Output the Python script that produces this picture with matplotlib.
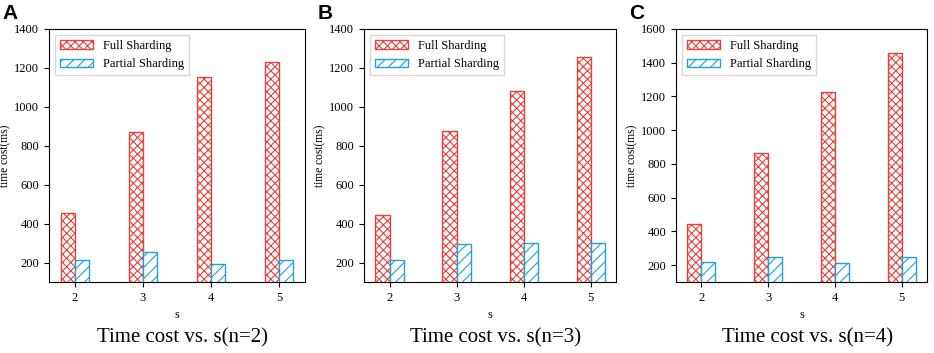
import matplotlib
matplotlib.use("Agg")
import matplotlib.pyplot as plt
import numpy as np

plt.rcParams['font.family'] = ['Liberation Serif', 'DejaVu Serif']
plt.rcParams['hatch.linewidth'] = 0.8

s_values = [2, 3, 4, 5]
full_n2 = [455, 872, 1154, 1229]
partial_n2 = [215, 253, 195, 212]
full_n3 = [446, 875, 1079, 1258]
partial_n3 = [215, 297, 301, 301]
full_n4 = [444, 864, 1225, 1460]
partial_n4 = [217, 247, 215, 251]

panels = [
    ("A", full_n2, partial_n2, "Time cost vs. s(n=2)", (100, 1400), [0.0525, 0.201, 0.274, 0.717]),
    ("B", full_n3, partial_n3, "Time cost vs. s(n=3)", (100, 1400), [0.3897, 0.201, 0.270, 0.717]),
    ("C", full_n4, partial_n4, "Time cost vs. s(n=4)", (100, 1600), [0.7238, 0.201, 0.2687, 0.717]),
]

red = '#e8403a'
blue = '#1ba1e2'

fig = plt.figure(figsize=(9.34, 3.53), dpi=100)
x = np.array(s_values, dtype=float)
w = 0.21
for letter, full, partial, title, ylim, pos in panels:
    ax = fig.add_axes(pos)
    ax.bar(x - w / 2, full, width=w, bottom=0, facecolor='white', edgecolor=red,
           hatch='xxxx', linewidth=1.0, label='Full Sharding')
    ax.bar(x + w / 2, partial, width=w, bottom=0, facecolor='white', edgecolor=blue,
           hatch='///', linewidth=1.0, label='Partial Sharding')
    ax.set_ylim(*ylim)
    ax.set_xticks(s_values)
    ax.set_xticklabels([str(v) for v in s_values])
    ax.tick_params(labelsize=9, length=3.5)
    ax.set_xlabel('s', fontsize=9)
    ax.set_ylabel('time cost(ms)', fontsize=8.3, labelpad=2)
    ax.legend(loc='upper left', fontsize=9, frameon=True, fancybox=False,
              edgecolor='#cccccc', handlelength=2.6, borderpad=0.4)
    fig.text(pos[0] + pos[2] / 2 + 0.0064, 0.042, title, ha='center', va='center', fontsize=15)
    fig.text(pos[0] - 0.05, 0.99, letter, ha='left', va='top', fontsize=15,
             fontweight='bold', family=['Liberation Sans', 'DejaVu Sans'])

fig.savefig('out.png', dpi=100)
